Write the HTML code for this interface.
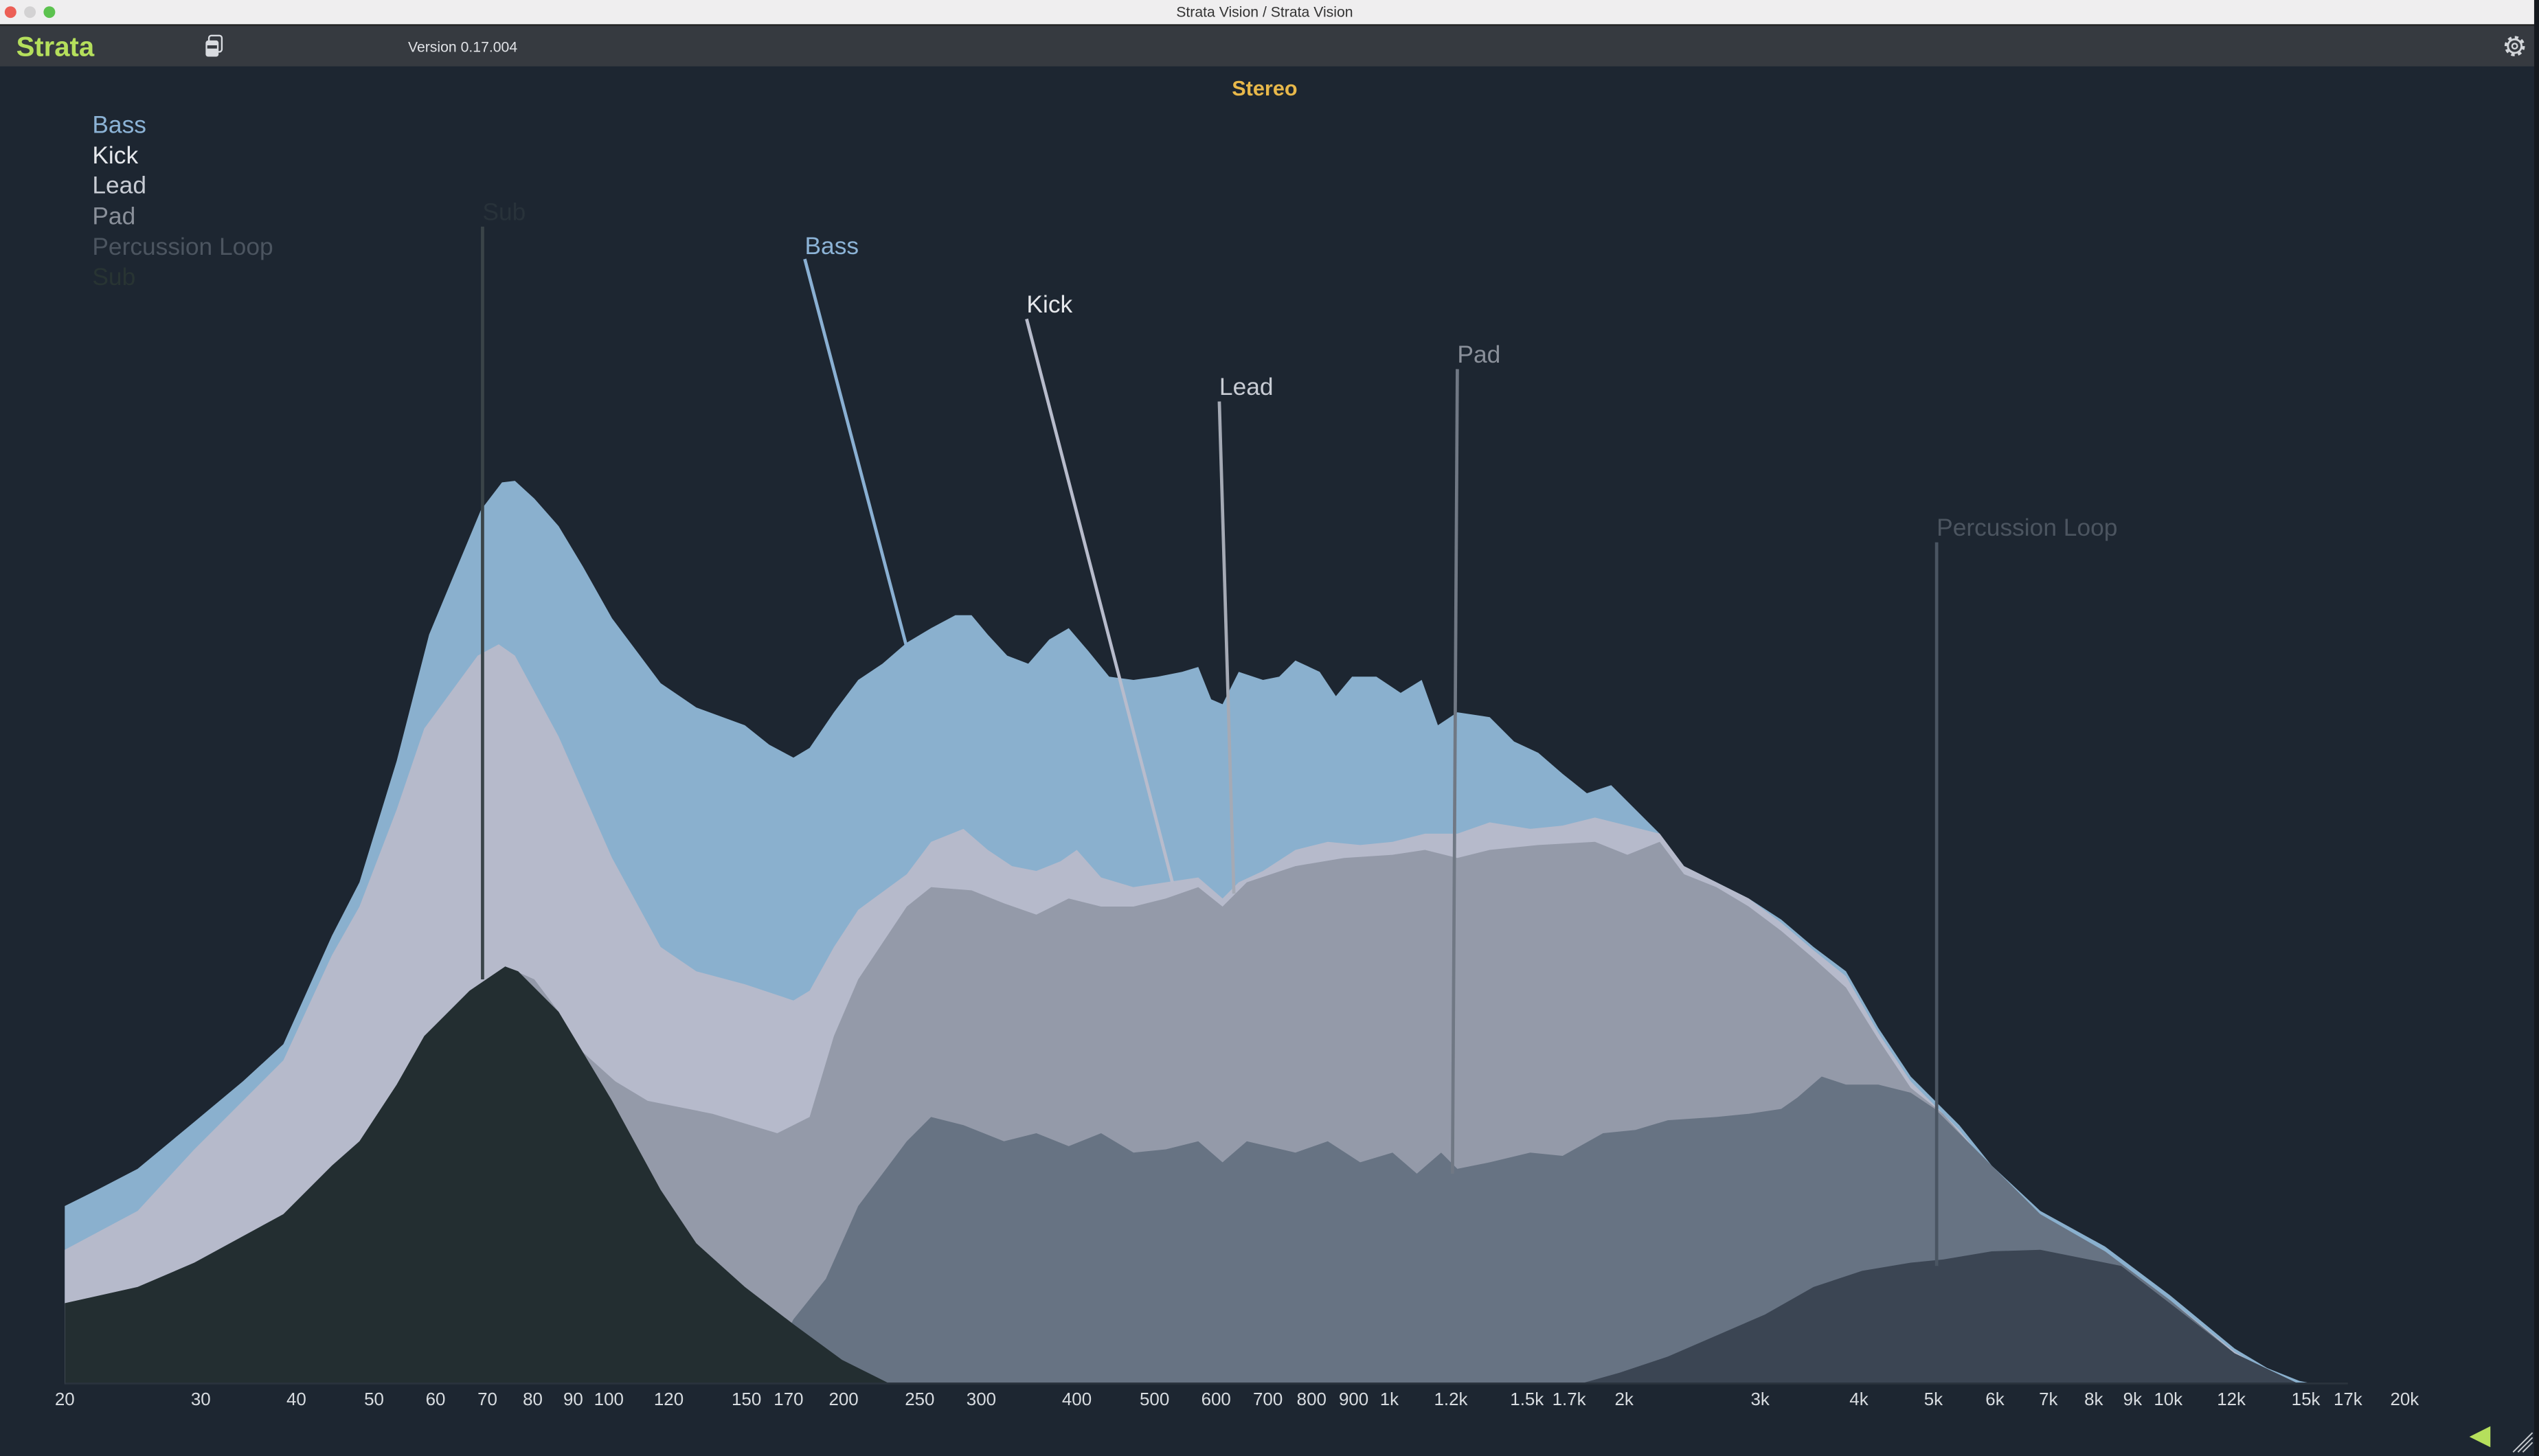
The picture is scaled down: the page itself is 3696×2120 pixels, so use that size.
<!DOCTYPE html>
<html><head><meta charset="utf-8"><style>
html,body{margin:0;padding:0;width:3696px;height:2120px;overflow:hidden;background:#1d2631}
svg{display:block}
text{font-family:"Liberation Sans",sans-serif}
</style></head><body>
<svg width="3696" height="2120" viewBox="0 0 1568 899.4" preserveAspectRatio="none" xmlns="http://www.w3.org/2000/svg">
<rect x="0" y="0" width="1568" height="899.4" fill="#1d2631"/>
<!-- title bar -->
<rect x="0" y="0" width="1568" height="15" fill="#efeeef"/>
<rect x="0" y="15" width="1568" height="1" fill="#222"/>
<circle cx="6.5" cy="7.5" r="3.6" fill="#ec5f56"/>
<circle cx="18.5" cy="7.5" r="3.6" fill="#d3d2d3"/>
<circle cx="30.5" cy="7.5" r="3.6" fill="#5cc24f"/>
<text x="781" y="10.5" font-size="9" fill="#333" text-anchor="middle">Strata Vision / Strata Vision</text>
<!-- toolbar -->
<rect x="0" y="16" width="1568" height="25" fill="#363a40"/>
<text x="10" y="34.5" font-size="17" font-weight="bold" fill="#b5df5c">Strata</text>
<rect x="127" y="25" width="8" height="10" rx="1.5" fill="#d8dbe0"/>
<rect x="129" y="22" width="8" height="10" rx="1.5" fill="none" stroke="#d8dbe0" stroke-width="1"/>
<rect x="128" y="28" width="6" height="2" fill="#363a40"/>
<text x="252" y="32" font-size="9" fill="#e0e2e6">Version 0.17.004</text>
<circle cx="1553" cy="28.5" r="5.5" fill="none" stroke="#d3d6da" stroke-width="1.6" stroke-dasharray="2.2 2.1"/>
<circle cx="1553" cy="28.5" r="4.2" fill="none" stroke="#d3d6da" stroke-width="1.2"/>
<circle cx="1553" cy="28.5" r="1.6" fill="none" stroke="#d3d6da" stroke-width="1"/>
<rect x="1565" y="0" width="3" height="899.4" fill="#15191e"/>
<!-- header -->
<text x="781" y="59" font-size="13" font-weight="bold" fill="#e8b84a" text-anchor="middle">Stereo</text>
<!-- legend -->
<g font-size="15">
<text x="57" y="82" fill="#8cb3d6">Bass</text>
<text x="57" y="101" fill="#e6e8ec">Kick</text>
<text x="57" y="119.5" fill="#c8ccd4">Lead</text>
<text x="57" y="138.5" fill="#8a909a">Pad</text>
<text x="57" y="157.5" fill="#4c5560">Percussion Loop</text>
<text x="57" y="176" fill="#283433">Sub</text>
</g>
<!-- Bass -->
<polygon fill="#8ab0ce" points="40,855 40,745 60,735 85,722 120,693 150,668 175,645 205,578 222,545 245,470 265,392 297,315 310,298 318,297 330,308 345,325 360,350 378,382 408,422 430,437 460,448 475,460 490,468 500,462 515,440 530,420 545,410 560,397 575,388 590,380 600,380 610,392 622,405 635,410 648,395 660,388 672,402 685,418 700,420 715,418 730,415 740,412 748,432 755,435 765,415 780,420 790,418 800,408 815,415 825,430 835,418 850,418 865,428 878,420 888,448 900,440 920,443 935,458 950,465 965,478 980,490 995,485 1010,500 1025,515 1040,535 1060,545 1080,555 1100,568 1120,585 1140,600 1160,635 1180,665 1195,680 1210,695 1230,720 1260,748 1300,770 1340,800 1380,833 1400,845 1420,853 1430,855"/>
<!-- Kick -->
<polygon fill="#b6bacb" points="40,855 40,772 85,748 120,710 175,655 205,590 222,560 245,500 262,450 295,405 308,398 318,405 345,455 378,530 408,585 430,600 460,608 490,618 500,612 515,585 530,562 560,540 575,520 595,512 610,525 625,535 640,538 655,532 665,525 680,542 700,548 720,545 740,542 755,555 765,545 780,538 800,525 820,520 840,522 860,520 880,515 900,515 920,508 945,512 965,510 985,505 1005,510 1025,515 1040,535 1060,545 1080,555 1100,570 1120,587 1140,603 1160,638 1180,668 1195,683 1210,698 1230,723 1260,752 1300,773 1340,803 1380,835 1400,847 1420,855"/>
<!-- Lead -->
<polygon fill="#949aa9" points="40,855 40,805 85,795 120,780 175,750 205,720 222,705 245,670 262,640 290,612 312,597 330,605 345,625 360,650 380,668 400,680 440,688 480,700 500,690 515,640 530,605 560,560 575,548 600,550 620,558 640,565 660,555 680,560 700,560 720,555 740,548 755,560 770,545 800,535 830,530 860,528 880,525 900,530 920,525 950,522 985,520 1005,528 1025,520 1040,540 1060,548 1080,560 1100,575 1120,592 1140,610 1160,642 1180,672 1200,688 1215,705 1235,728 1260,755 1300,775 1340,805 1380,836 1420,855"/>
<!-- Pad -->
<polygon fill="#677383" points="470,855 490,815 510,790 530,745 560,705 575,690 595,695 620,705 640,700 660,708 680,700 700,712 720,710 740,705 755,718 770,705 800,712 820,705 840,718 860,712 875,725 890,712 900,722 920,718 945,712 965,714 990,700 1010,698 1030,692 1060,690 1080,688 1100,685 1110,678 1125,665 1140,670 1160,670 1180,675 1195,685 1210,700 1230,720 1260,750 1300,773 1340,803 1380,836 1420,855"/>
<!-- Percussion -->
<polygon fill="#3b4553" points="975,855 1000,848 1030,838 1060,825 1090,812 1120,795 1150,785 1180,780 1200,778 1230,773 1260,772 1290,778 1310,782 1340,805 1380,836 1420,855"/>
<!-- Sub -->
<polygon fill="#232e31" points="40,855 40,805 85,795 120,780 175,750 205,720 222,705 245,670 262,640 290,612 312,597 320,600 345,625 378,680 408,735 430,768 460,795 490,818 520,840 550,855"/>
<rect x="40" y="854" width="1410" height="1.2" fill="#2a333d"/>
<!-- annotation lines -->
<g stroke-width="2" fill="none">
<line x1="298" y1="140" x2="298" y2="605" stroke="#3a4448"/>
<line x1="497" y1="160" x2="560" y2="400" stroke="#8ab0d3"/>
<line x1="634" y1="197" x2="724" y2="545" stroke="#b8bccc"/>
<line x1="753" y1="248" x2="762" y2="552" stroke="#a5aab5"/>
<line x1="900" y1="228" x2="897" y2="725" stroke="#707884"/>
<line x1="1196" y1="335" x2="1196" y2="782" stroke="#4a5562"/>
</g>
<g font-size="15">
<text x="298" y="136" fill="#28323a">Sub</text>
<text x="497" y="157" fill="#8cb3d6">Bass</text>
<text x="634" y="193" fill="#e6e8ec">Kick</text>
<text x="753" y="244" fill="#c8ccd4">Lead</text>
<text x="900" y="224" fill="#8a909a">Pad</text>
<text x="1196" y="331" fill="#4c5560">Percussion Loop</text>
</g>
<!-- axis labels -->
<g font-size="11" fill="#d8dce0" text-anchor="middle">
<text x="40" y="868">20</text><text x="124" y="868">30</text><text x="183" y="868">40</text><text x="231" y="868">50</text><text x="269" y="868">60</text><text x="301" y="868">70</text><text x="329" y="868">80</text><text x="354" y="868">90</text><text x="376" y="868">100</text><text x="413" y="868">120</text><text x="461" y="868">150</text><text x="487" y="868">170</text><text x="521" y="868">200</text><text x="568" y="868">250</text><text x="606" y="868">300</text><text x="665" y="868">400</text><text x="713" y="868">500</text><text x="751" y="868">600</text><text x="783" y="868">700</text><text x="810" y="868">800</text><text x="836" y="868">900</text><text x="858" y="868">1k</text><text x="896" y="868">1.2k</text><text x="943" y="868">1.5k</text><text x="969" y="868">1.7k</text><text x="1003" y="868">2k</text><text x="1087" y="868">3k</text><text x="1148" y="868">4k</text><text x="1194" y="868">5k</text><text x="1232" y="868">6k</text><text x="1265" y="868">7k</text><text x="1293" y="868">8k</text><text x="1317" y="868">9k</text><text x="1339" y="868">10k</text><text x="1378" y="868">12k</text><text x="1424" y="868">15k</text><text x="1450" y="868">17k</text><text x="1485" y="868">20k</text>
</g>
<polygon points="1525,887.5 1538,881 1538,894" fill="#b5df5c"/>
<g stroke="#c8ccd0" stroke-width="0.8">
<line x1="1552" y1="897" x2="1564" y2="885"/><line x1="1555" y1="897" x2="1564" y2="888"/><line x1="1558" y1="897" x2="1564" y2="891"/>
</g>
</svg>
</body></html>
